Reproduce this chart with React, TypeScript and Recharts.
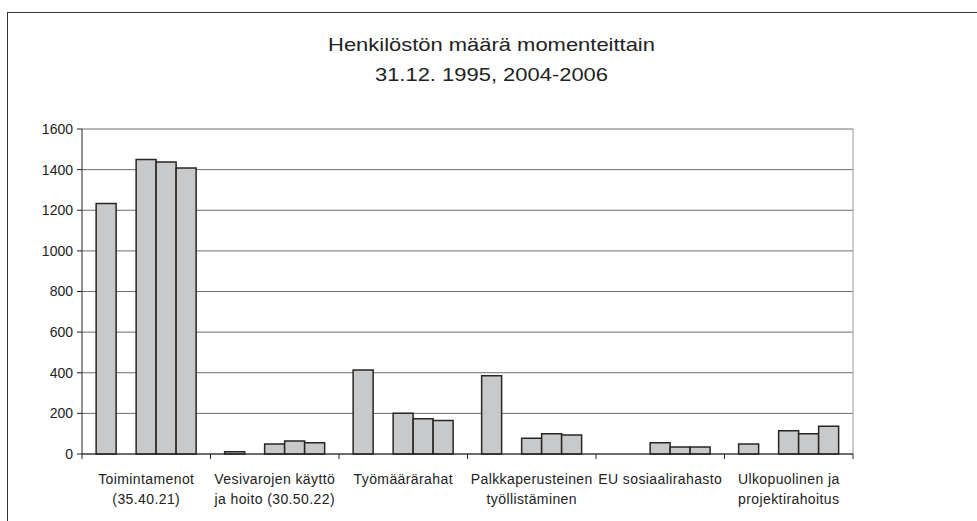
import { BarChart, Bar, XAxis, YAxis, CartesianGrid } from "recharts";

const categories = [
  "Toimintamenot (35.40.21)",
  "Vesivarojen käyttö ja hoito (30.50.22)",
  "Työmäärärahat",
  "Palkkaperusteinen työllistäminen",
  "EU sosiaalirahasto",
  "Ulkopuolinen ja projektirahoitus",
];
const tickLines = [
  ["Toimintamenot", "(35.40.21)"],
  ["Vesivarojen käyttö", "ja hoito (30.50.22)"],
  ["Työmäärärahat"],
  ["Palkkaperusteinen", "työllistäminen"],
  ["EU sosiaalirahasto"],
  ["Ulkopuolinen ja", "projektirahoitus"],
];

// 31.12. values per year; the empty slot between 1995 and 2004 is kept as in the original
const v1995 = [1233, 11, 414, 385, null, 49];
const v2004 = [1450, 49, 201, 77, 56, 114];
const v2005 = [1437, 64, 173, 100, 34, 100];
const v2006 = [1408, 56, 165, 93, 34, 137];
const yTicks = [0, 200, 400, 600, 800, 1000, 1200, 1400, 1600];

const data = categories.map((name, i) => ({
  name,
  y1995: v1995[i],
  tyhja: null,
  y2004: v2004[i],
  y2005: v2005[i],
  y2006: v2006[i],
}));

const FONT = '"Liberation Sans", Arial, sans-serif';
const PLOT_W = 771;

function CategoryTick(props: any) {
  const { x, y, payload } = props;
  const index = props.index ?? categories.indexOf(payload.value);
  const band = PLOT_W / categories.length;
  const lines = tickLines[index] ?? [];
  return (
    <g>
      <line x1={x - band / 2} x2={x - band / 2} y1={y} y2={y + 5} stroke="#222" />
      {index === categories.length - 1 && (
        <line x1={x + band / 2} x2={x + band / 2} y1={y} y2={y + 5} stroke="#222" />
      )}
      <text textAnchor="middle" fontFamily={FONT} fontSize={14} fill="#222" letterSpacing={0.4}>
        {lines.map((t, k) => (
          <tspan key={k} x={x} y={y + 30 + k * 20}>
            {t}
          </tspan>
        ))}
      </text>
    </g>
  );
}

export default function App() {
  return (
    <div style={{ position: "absolute", left: 0, top: 0, width: 977, height: 521, overflow: "hidden", background: "#fff" }}>
      <div
        style={{
          position: "absolute",
          left: 7,
          top: 12,
          width: 1000,
          height: 600,
          borderTop: "1.5px solid #333",
          borderLeft: "1.5px solid #333",
        }}
      />
      <div
        style={{
          position: "absolute",
          left: 0,
          top: 30,
          width: 983,
          textAlign: "center",
          fontFamily: FONT,
          fontSize: 19,
          lineHeight: "30px",
          color: "#222",
          transform: "scaleX(1.155)",
          transformOrigin: "491.5px 0",
        }}
      >
        <div>Henkilöstön määrä momenteittain</div>
        <div>31.12. 1995, 2004-2006</div>
      </div>
      <div style={{ position: "absolute", left: 0, top: 0 }}>
        <BarChart
          width={977}
          height={521}
          data={data}
          margin={{ top: 129, right: 124, bottom: 7, left: 0 }}
          barCategoryGap="11%"
          barGap={0}
        >
          <CartesianGrid vertical={false} stroke="#6e6e6e" />
          <CartesianGrid
            horizontal={false}
            stroke="#9a9a9a"
            verticalCoordinatesGenerator={({ offset }: any) => [offset.left + offset.width]}
          />
          <XAxis
            dataKey="name"
            interval={0}
            height={60}
            tickSize={0}
            tickMargin={0}
            tickLine={false}
            axisLine={{ stroke: "#222" }}
            tick={<CategoryTick />}
          />
          <YAxis
            width={82}
            domain={[0, 1600]}
            ticks={yTicks}
            interval={0}
            tickSize={5}
            tickMargin={4}
            axisLine={{ stroke: "#222" }}
            tickLine={{ stroke: "#222" }}
            tick={{ fontFamily: FONT, fontSize: 14, fill: "#222" }}
          />
          <Bar dataKey="y1995" name="1995" fill="#c8c9cb" stroke="#262626" strokeWidth={1.5} isAnimationActive={false} />
          <Bar dataKey="tyhja" name="" fill="#c8c9cb" stroke="#262626" strokeWidth={1.5} isAnimationActive={false} />
          <Bar dataKey="y2004" name="2004" fill="#c8c9cb" stroke="#262626" strokeWidth={1.5} isAnimationActive={false} />
          <Bar dataKey="y2005" name="2005" fill="#c8c9cb" stroke="#262626" strokeWidth={1.5} isAnimationActive={false} />
          <Bar dataKey="y2006" name="2006" fill="#c8c9cb" stroke="#262626" strokeWidth={1.5} isAnimationActive={false} />
        </BarChart>
      </div>
    </div>
  );
}
